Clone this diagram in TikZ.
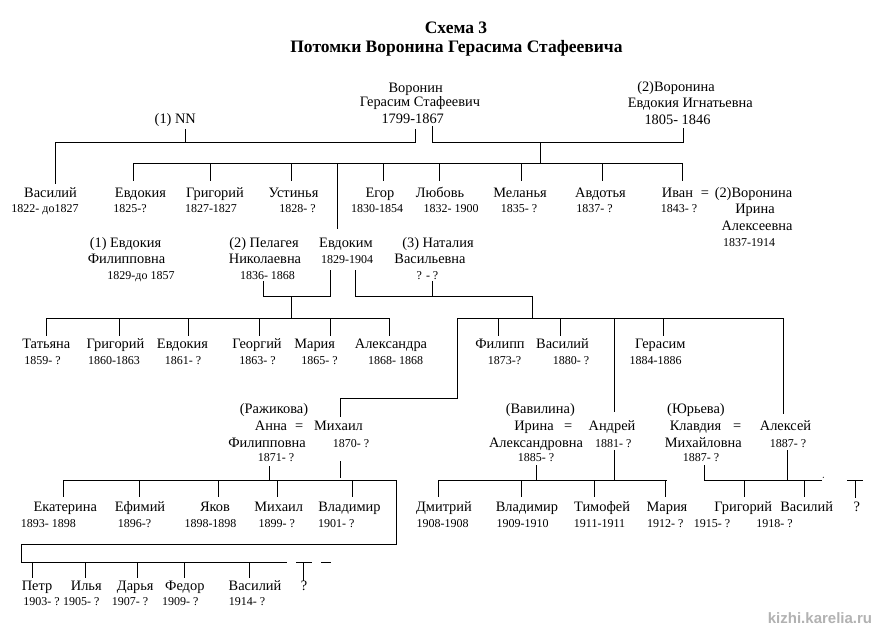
\documentclass[tikz,border=0pt]{standalone}
\usepackage{fontspec}
\setmainfont{Liberation Serif}
\newfontfamily\wmfont{Liberation Sans}
\begin{document}
\begin{tikzpicture}[x=1pt,y=-1pt,line width=1pt,line cap=rect,
  nm/.style={font=\fontsize{14.4}{16}\selectfont, inner sep=0pt, anchor=base},
  dt/.style={font=\fontsize{12}{14}\selectfont, inner sep=0pt, anchor=base},
  ttl/.style={font=\bfseries\fontsize{17.5}{19}\selectfont, inner sep=0pt, anchor=base},
  wm/.style={font=\wmfont\bfseries\fontsize{15}{17}\selectfont, text=gray!60, inner sep=0pt, anchor=base}]
\fill[white] (0,0) rectangle (876,630);
\useasboundingbox (0,0) rectangle (876,630);

% ---------- titles
\node[ttl] (t1) at (456,33) {Схема 3};
\node[ttl] (t2) at (456.5,52.5) {Потомки Воронина Герасима Стафеевича};

% ---------- generation 0
\node[nm] (gv1) at (415.7,92) {Воронин};
\node[nm] (gv2) at (420,106.5) {Герасим Стафеевич};
\node[nm] (gv3) at (412.7,123) {1799-1867};
\node[nm] (nn) at (175.3,123) {(1) NN};
\node[nm] (ei1) at (676,91) {(2)Воронина};
\node[nm] (ei2) at (690.3,107.5) {Евдокия Игнатьевна};
\node[nm] (ei3) at (677.5,124) {1805- 1846};

% ---------- generation 1
\node[nm] (c1) at (50.5,197) {Василий};   \node[dt] (c1d) at (45,212.5) {1822- до1827};
\node[nm] (c2) at (140.5,197) {Евдокия};  \node[dt] (c2d) at (130,212.5) {1825-?};
\node[nm] (c3) at (215,197) {Григорий};   \node[dt] (c3d) at (211,212.5) {1827-1827};
\node[nm] (c4) at (293.5,197) {Устинья};  \node[dt] (c4d) at (297.5,212.5) {1828- ?};
\node[nm] (c5) at (380,197) {Егор};       \node[dt] (c5d) at (377,212.5) {1830-1854};
\node[nm] (c6) at (440,197) {Любовь};     \node[dt] (c6d) at (451,212.5) {1832- 1900};
\node[nm] (c7) at (520,197) {Меланья};    \node[dt] (c7d) at (519,212.5) {1835- ?};
\node[nm] (c8) at (600.5,197) {Авдотья};  \node[dt] (c8d) at (594.5,212.5) {1837- ?};
\node[nm] (c9) at (677.5,197) {Иван};     \node[dt] (c9d) at (679,212.5) {1843- ?};
\node[nm] (eq0) at (705,197) {=};
\node[nm] (ir1) at (753.5,197) {(2)Воронина};
\node[nm] (ir2) at (755,213) {Ирина};
\node[nm] (ir3) at (757,230) {Алексеевна};
\node[dt] (ir4) at (749,246.5) {1837-1914};

% spouses of Evdokim
\node[nm] (w1a) at (125.5,247.5) {(1) Евдокия};
\node[nm] (w1b) at (126.5,263.5) {Филипповна};
\node[dt] (w1c) at (141,279.5) {1829-до 1857};
\node[nm] (w2a) at (264,247.5) {(2) Пелагея};
\node[nm] (w2b) at (265,263.5) {Николаевна};
\node[dt] (w2c) at (267.5,279.5) {1836- 1868};
\node[nm] (ev) at (346,247.5) {Евдоким};
\node[dt] (evd) at (347,263.5) {1829-1904};
\node[nm] (w3a) at (438,247.5) {(3) Наталия};
\node[nm] (w3b) at (430,263.5) {Васильевна};
\node[dt] (w3c) at (427.5,279.5) {? - ?};

% ---------- generation 2
\node[nm] (g1) at (46.3,348.5) {Татьяна};     \node[dt] (g1d) at (42.5,364) {1859- ?};
\node[nm] (g2) at (115.5,348.5) {Григорий};   \node[dt] (g2d) at (114,364) {1860-1863};
\node[nm] (g3) at (182.5,348.5) {Евдокия};    \node[dt] (g3d) at (183,364) {1861- ?};
\node[nm] (g4) at (257,348.5) {Георгий};      \node[dt] (g4d) at (257.5,364) {1863- ?};
\node[nm] (g5) at (314.7,348.5) {Мария};      \node[dt] (g5d) at (319.5,364) {1865- ?};
\node[nm] (g6) at (391,348.5) {Александра};   \node[dt] (g6d) at (395.5,364) {1868- 1868};
\node[nm] (h1) at (500,348.5) {Филипп};       \node[dt] (h1d) at (504.5,364) {1873-?};
\node[nm] (h2) at (562.5,348.5) {Василий};    \node[dt] (h2d) at (571,364) {1880- ?};
\node[nm] (h3) at (660.3,348.5) {Герасим};    \node[dt] (h3d) at (655.5,364) {1884-1886};

% couples
\node[nm] (a0) at (274,413.5) {(Ражикова)};
\node[nm] (a1) at (271,430) {Анна};
\node[nm] (aeq) at (299.3,430) {=};
\node[nm] (m1) at (338.5,430) {Михаил};
\node[nm] (a2) at (267,447.5) {Филипповна};
\node[dt] (m2) at (351,447) {1870- ?};
\node[dt] (a3) at (276,461.7) {1871- ?};

\node[nm] (b0) at (540.3,413.5) {(Вавилина)};
\node[nm] (b1) at (534,430) {Ирина};
\node[nm] (beq) at (568.3,430) {=};
\node[nm] (n1) at (612,430) {Андрей};
\node[nm] (b2) at (536,447.5) {Александровна};
\node[dt] (n2) at (613.3,447) {1881- ?};
\node[dt] (b3) at (536,461.7) {1885- ?};

\node[nm] (k0) at (696,413.5) {(Юрьева)};
\node[nm] (k1) at (695.5,430) {Клавдия};
\node[nm] (keq) at (737.3,430) {=};
\node[nm] (l1) at (785.5,430) {Алексей};
\node[nm] (k2) at (703.3,447.5) {Михайловна};
\node[dt] (l2) at (788,447) {1887- ?};
\node[dt] (k3) at (701,461.7) {1887- ?};

% ---------- generation 3
\node[nm] (p1) at (65.3,511.5) {Екатерина};   \node[dt] (p1d) at (48.3,527.3) {1893- 1898};
\node[nm] (p2) at (140,511.5) {Ефимий};       \node[dt] (p2d) at (134.5,527.3) {1896-?};
\node[nm] (p3) at (215,511.5) {Яков};         \node[dt] (p3d) at (210.5,527.3) {1898-1898};
\node[nm] (p4) at (278.7,511.5) {Михаил};     \node[dt] (p4d) at (276.7,527.3) {1899- ?};
\node[nm] (p5) at (349.5,511.5) {Владимир};   \node[dt] (p5d) at (336.3,527.3) {1901- ?};
\node[nm] (q1) at (444,511.5) {Дмитрий};      \node[dt] (q1d) at (442.5,527.3) {1908-1908};
\node[nm] (q2) at (527,511.5) {Владимир};     \node[dt] (q2d) at (522.5,527.3) {1909-1910};
\node[nm] (q3) at (602,511.5) {Тимофей};      \node[dt] (q3d) at (599.5,527.3) {1911-1911};
\node[nm] (q4) at (667,511.5) {Мария};        \node[dt] (q4d) at (665.3,527.3) {1912- ?};
\node[nm] (r1) at (743.3,511.5) {Григорий};   \node[dt] (r1d) at (712,527.3) {1915- ?};
\node[nm] (r2) at (806.7,511.5) {Василий};    \node[dt] (r2d) at (774.5,527.3) {1918- ?};
\node[nm] (r3) at (856.7,511.5) {?};

\node[nm] (s1) at (37,590.5) {Петр};          \node[dt] (s1d) at (41.5,605.7) {1903- ?};
\node[nm] (s2) at (86.3,590.5) {Илья};        \node[dt] (s2d) at (81.2,605.7) {1905- ?};
\node[nm] (s3) at (135.3,590.5) {Дарья};      \node[dt] (s3d) at (130,605.7) {1907- ?};
\node[nm] (s4) at (184.8,590.5) {Федор};      \node[dt] (s4d) at (180.3,605.7) {1909- ?};
\node[nm] (s5) at (255,590.5) {Василий};      \node[dt] (s5d) at (247,605.7) {1914- ?};
\node[nm] (s6) at (304,590.5) {?};

\node[wm] (wmk) at (820,623) {kizhi.karelia.ru};

% ---------- connectors: generation 0 -> 1
\coordinate (nnT) at (185,129);     \coordinate (nnB) at (185,142.3);
\coordinate (aL) at (55,142.3);     \coordinate (aR) at (415.7,142.3);
\coordinate (gvL) at (415.7,129);   \coordinate (vasT) at (55,183);
\draw (nnT) -- (nnB);
\draw (vasT) -- (aL) -- (aR) -- (gvL);
\coordinate (gvR) at (432.7,126);   \coordinate (bL) at (432.7,142.3);
\coordinate (bR) at (683,142.3);    \coordinate (eiB) at (683,128);
\draw (gvR) -- (bL) -- (bR) -- (eiB);
\coordinate (dB1) at (540,142.3);   \coordinate (dB2) at (540,163);
\draw (dB1) -- (dB2);
\coordinate (cL) at (133.3,163);    \coordinate (cR) at (682.5,163);
\draw (cL) -- (cR);
\foreach \x [count=\i] in {133.3,210,291.7,383,439,521,602,682.5}{
  \coordinate (ct\i) at (\x,163); \coordinate (cb\i) at (\x,180);
  \draw (ct\i) -- (cb\i);}
\coordinate (evT) at (337.7,163);   \coordinate (evB) at (337.7,228);
\draw (evT) -- (evB);

% ---------- Evdokim + Pelageya
\coordinate (pe1) at (263,281);     \coordinate (pe2) at (263,296.7);
\coordinate (pe3) at (330.7,296.7); \coordinate (pe4) at (330.7,270);
\draw (pe1) -- (pe2) -- (pe3) -- (pe4);
\coordinate (pd1) at (291.7,296.7); \coordinate (pd2) at (291.7,318.3);
\draw (pd1) -- (pd2);
\coordinate (gL) at (46,318.3);     \coordinate (gR) at (389.3,318.3);
\draw (gL) -- (gR);
\foreach \x [count=\i] in {46,119.3,188.3,259.3,330,389.3}{
  \coordinate (gt\i) at (\x,318.3); \coordinate (gb\i) at (\x,335);
  \draw (gt\i) -- (gb\i);}

% ---------- Evdokim + Nataliya
\coordinate (na1) at (355.5,270);   \coordinate (na2) at (355.5,296.7);
\coordinate (na3) at (532.7,296.7); \coordinate (na4) at (532.7,318.3);
\draw (na1) -- (na2) -- (na3) -- (na4);
\coordinate (nq1) at (432.3,281);   \coordinate (nq2) at (432.3,296.7);
\draw (nq1) -- (nq2);
\coordinate (hL) at (457.3,318.3);  \coordinate (hR) at (783.3,318.3);
\draw (hL) -- (hR);
\foreach \x [count=\i] in {498.3,560,663.3}{
  \coordinate (ht\i) at (\x,318.3); \coordinate (hb\i) at (\x,335);
  \draw (ht\i) -- (hb\i);}
\coordinate (anT) at (614.3,318.3); \coordinate (anB) at (614.3,411.7);
\draw (anT) -- (anB);
\coordinate (alT) at (783.3,318.3); \coordinate (alB) at (783.3,413);
\draw (alT) -- (alB);
\coordinate (mi1) at (457.5,318.3); \coordinate (mi2) at (457.5,398);
\coordinate (mi3) at (340.3,398);   \coordinate (mi4) at (340.3,416);
\draw (mi1) -- (mi2) -- (mi3) -- (mi4);

% ---------- Mikhail + Anna
\coordinate (ma1) at (269.3,466.7); \coordinate (ma2) at (269.3,480.7);
\draw (ma1) -- (ma2);
\coordinate (mm1) at (340,461.7);   \coordinate (mm2) at (340,477);
\draw (mm1) -- (mm2);
\coordinate (pL) at (63.3,480.7);   \coordinate (pR) at (396,480.7);
\draw (pL) -- (pR);
\foreach \x [count=\i] in {63.3,139.3,218.3,277.3,352.3}{
  \coordinate (pt\i) at (\x,480.7); \coordinate (pb\i) at (\x,496.7);
  \draw (pt\i) -- (pb\i);}
\coordinate (pc1) at (396,544.3);   \coordinate (pc2) at (21.7,544.3);
\coordinate (pc3) at (21.7,562.3);  \coordinate (sR) at (286,562.3);
\draw (pR) -- (pc1) -- (pc2) -- (pc3) -- (sR);
\foreach \x [count=\i] in {32.3,85.7,137.3,184.3,249.3}{
  \coordinate (st\i) at (\x,562.3); \coordinate (sb\i) at (\x,577.3);
  \draw (st\i) -- (sb\i);}
\coordinate (u1) at (296,562.3);    \coordinate (u2) at (311.7,562.3);
\draw (u1) -- (u2);
\coordinate (u3) at (303.3,562.3);  \coordinate (u4) at (303.3,580);
\draw (u3) -- (u4);
\coordinate (u5) at (321.7,562.3);  \coordinate (u6) at (330,562.3);
\draw (u5) -- (u6);

% ---------- Andrey + Irina
\coordinate (ia1) at (536,465);     \coordinate (ia2) at (536,480);
\draw (ia1) -- (ia2);
\coordinate (an1) at (614.3,450);   \coordinate (an2) at (614.3,480);
\draw (an1) -- (an2);
\coordinate (qL) at (438.3,480);    \coordinate (qR) at (666,480);
\draw (qL) -- (qR);
\foreach \x [count=\i] in {438.3,521,594.3,665.7}{
  \coordinate (qt\i) at (\x,480); \coordinate (qb\i) at (\x,496.7);
  \draw (qt\i) -- (qb\i);}

% ---------- Aleksey + Klavdiya
\coordinate (kl1) at (704,465);     \coordinate (kl2) at (704,480);
\coordinate (kR) at (821.7,480);
\draw (kl1) -- (kl2) -- (kR);
\coordinate (al1) at (787.3,450);   \coordinate (al2) at (787.3,480);
\draw (al1) -- (al2);
\foreach \x [count=\i] in {744.3,804.3}{
  \coordinate (kt\i) at (\x,480); \coordinate (kb\i) at (\x,496.7);
  \draw (kt\i) -- (kb\i);}
\fill (823.3,477.3) circle (0.6);
\coordinate (v1) at (847.7,480);    \coordinate (v2) at (862.7,480);
\draw (v1) -- (v2);
\coordinate (v3) at (855,480);      \coordinate (v4) at (855,497);
\draw (v3) -- (v4);
\end{tikzpicture}
\end{document}
